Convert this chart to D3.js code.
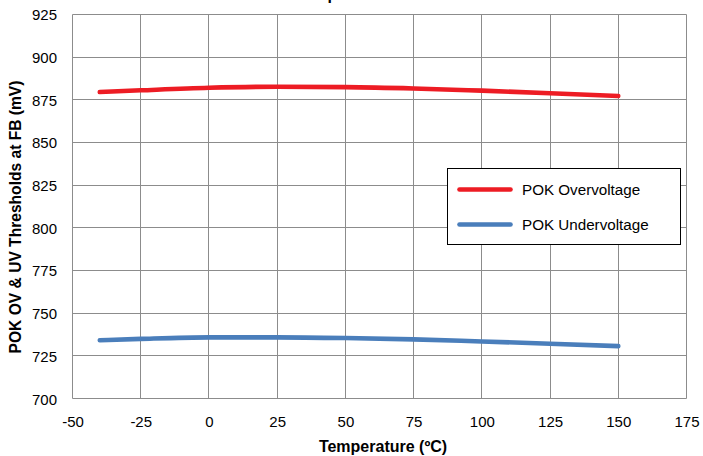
<!DOCTYPE html>
<html>
<head>
<meta charset="utf-8">
<script src="https://cdn.jsdelivr.net/npm/d3@7"></script>
<style>
  html, body { margin: 0; padding: 0; background: #fff; }
  svg { display: block; font-family: "Liberation Sans", Arial, sans-serif; }
</style>
</head>
<body>
<svg id="chart" width="703" height="456"></svg>
<script>
// ---- data ----
const temperatures = [-40, -25, 0, 25, 50, 75, 100, 125, 150];
const overvoltage  = [879.5, 880.5, 882.0, 882.6, 882.4, 881.6, 880.3, 878.8, 877.2];
const undervoltage = [734.2, 735.0, 735.9, 735.9, 735.5, 734.7, 733.5, 732.2, 730.8];
const seriesNames  = ["POK Overvoltage", "POK Undervoltage"];
const xTicks = [-50, -25, 0, 25, 50, 75, 100, 125, 150, 175];
const yTicks = [700, 725, 750, 775, 800, 825, 850, 875, 900, 925];
const titleText = "POK Thresholds vs Temperature";
const xTitle = "Temperature (ºC)";
const yTitle = "POK OV & UV Thresholds at FB (mV)";

// ---- layout ----
const W = 703, H = 456;
const plot = { left: 72.5, right: 686.5, top: 14.3, bottom: 398.7 };
const colors = ["#ED1C24", "#4A7EBB"];
const gridColor = "#8c8c8c";
const fmt = d => String(d);

const svg = d3.select("#chart");
const x = d3.scaleLinear().domain([-50, 175]).range([plot.left, plot.right]);
const y = d3.scaleLinear().domain([700, 925]).range([plot.bottom, plot.top]);
const snap = v => Math.round(v - 0.5) + 0.5;

// chart title sits above the picture's top edge (only a descender shows, as in the reference)
const title = svg.append("text")
  .attr("x", 0).attr("y", -0.5)
  .attr("font-weight", "bold").attr("font-size", 16)
  .text(titleText);
const pIdx = titleText.lastIndexOf("p");
const px = title.node().getStartPositionOfChar(pIdx).x;
title.attr("x", 327.5 - px);

// grid
const g = svg.append("g");
g.selectAll("line.v").data(xTicks).join("line")
  .attr("x1", d => snap(x(d))).attr("x2", d => snap(x(d)))
  .attr("y1", snap(y(925))).attr("y2", snap(y(700)))
  .attr("stroke", gridColor).attr("stroke-width", 1);
g.selectAll("line.h").data(yTicks).join("line")
  .attr("y1", d => snap(y(d))).attr("y2", d => snap(y(d)))
  .attr("x1", snap(x(-50))).attr("x2", snap(x(175)))
  .attr("stroke", gridColor).attr("stroke-width", 1);

// axes labels via d3 axes (no domain / tick lines)
const xAxis = svg.append("g")
  .attr("transform", `translate(0,${plot.bottom})`)
  .call(d3.axisBottom(x).tickValues(xTicks).tickSize(0).tickPadding(0).tickFormat(fmt));
xAxis.select(".domain").remove();
xAxis.selectAll("text")
  .attr("y", 28).attr("dy", null)
  .attr("font-size", 15).attr("font-family", "Liberation Sans, Arial, sans-serif")
  .attr("fill", "#000");

const yAxis = svg.append("g")
  .attr("transform", `translate(57,0)`)
  .call(d3.axisLeft(y).tickValues(yTicks).tickSize(0).tickPadding(0).tickFormat(fmt));
yAxis.select(".domain").remove();
yAxis.selectAll("text")
  .attr("x", 0).attr("dy", "0.36em")
  .attr("font-size", 15).attr("font-family", "Liberation Sans, Arial, sans-serif")
  .attr("fill", "#000");

// axis titles
svg.append("text")
  .attr("x", 383).attr("y", 451.5)
  .attr("text-anchor", "middle")
  .attr("font-weight", "bold").attr("font-size", 16)
  .text(xTitle);
svg.append("text")
  .attr("transform", `translate(20.5,217) rotate(-90)`)
  .attr("text-anchor", "middle")
  .attr("font-weight", "bold").attr("font-size", 15.6)
  .text(yTitle);

// lines
const line = d3.line()
  .x((d, i) => x(temperatures[i]))
  .y(d => y(d))
  .curve(d3.curveMonotoneX);
[overvoltage, undervoltage].forEach((vals, k) => {
  svg.append("path")
    .attr("d", line(vals))
    .attr("fill", "none")
    .attr("stroke", colors[k])
    .attr("stroke-width", 4.6)
    .attr("stroke-linecap", "round")
    .attr("stroke-linejoin", "round");
});

// legend
const lg = svg.append("g");
lg.append("rect")
  .attr("x", 447.5).attr("y", 168.5).attr("width", 233).attr("height", 76)
  .attr("fill", "#fff").attr("stroke", "#000").attr("stroke-width", 1);
seriesNames.forEach((name, k) => {
  const yy = 189.5 + k * 35;
  lg.append("line")
    .attr("x1", 459.5).attr("x2", 510.5).attr("y1", yy).attr("y2", yy)
    .attr("stroke", colors[k]).attr("stroke-width", 4.6).attr("stroke-linecap", "round");
  lg.append("text")
    .attr("x", 522).attr("y", yy).attr("dy", "0.36em")
    .attr("font-size", 15.2)
    .text(name);
});
</script>
</body>
</html>
